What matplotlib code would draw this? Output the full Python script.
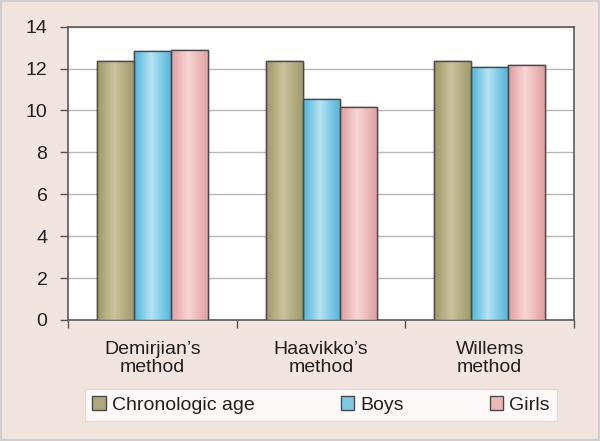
import matplotlib
matplotlib.use("Agg")
import matplotlib.pyplot as plt
import numpy as np
from matplotlib.colors import LinearSegmentedColormap
from matplotlib.patches import Rectangle

categories = ["Demirjian\u2019s\nmethod", "Haavikko\u2019s\nmethod", "Willems\nmethod"]
series_names = ["Chronologic age", "Boys", "Girls"]
chronologic = [12.37, 12.37, 12.37]
boys = [12.85, 10.54, 12.09]
girls = [12.88, 10.19, 12.17]
y_ticks = [0, 2, 4, 6, 8, 10, 12, 14]

edge_cols = ["#A09865", "#4DB6DB", "#E29E9E"]
mid_cols = ["#C9C29F", "#B8E2F2", "#F6D6D6"]
flat_cols = ["#B0A878", "#7FCBE6", "#EDB8B8"]

plt.rcParams['font.family'] = ['Liberation Sans', 'DejaVu Sans']

fig = plt.figure(figsize=(6.0, 4.41), dpi=100)
fig.patch.set_facecolor("#F2E4DE")
fig.patches.append(Rectangle((0, 0), 1, 1, transform=fig.transFigure, fill=False,
                             edgecolor="#CFCFCF", linewidth=3, zorder=10))
ax = fig.add_axes([0.1138, 0.2744, 0.8429, 0.6651])
ax.set_facecolor("white")

x = np.arange(len(categories))
w = 0.22
data = [chronologic, boys, girls]
for i, (vals, name) in enumerate(zip(data, series_names)):
    cmap = LinearSegmentedColormap.from_list(
        "g%d" % i, [(0, edge_cols[i]), (0.45, mid_cols[i]), (1, edge_cols[i])])
    bars = ax.bar(x + (i - 1) * w, vals, width=w, color=flat_cols[i],
                  edgecolor="#4A4A4A", linewidth=1.0, label=name, zorder=3)
    grad = np.linspace(0, 1, 64).reshape(1, -1)
    for b in bars:
        bx, by = b.get_x(), b.get_y()
        bw, bh = b.get_width(), b.get_height()
        im = ax.imshow(grad, cmap=cmap, aspect="auto", extent=[bx, bx + bw, by, by + bh],
                       zorder=3.5, interpolation="bilinear")
        im.set_clip_path(b)
        ed = Rectangle((bx, by), bw, bh, fill=False, edgecolor="#4A4A4A", linewidth=1.0, zorder=4)
        ax.add_patch(ed)

ax.set_xlim(-0.5, 2.5)
ax.set_ylim(0, 14)
ax.set_yticks(y_ticks)
ax.set_yticklabels([str(v) for v in y_ticks], fontsize=14, color="#231F20")
ax.yaxis.grid(True, color="#B8B8B8", linewidth=1.0, zorder=0)
ax.set_axisbelow(True)

ax.set_xticks([-0.5, 0.5, 1.5, 2.5])
ax.set_xticklabels([])
ax.set_xticks(x, minor=True)
ax.set_xticklabels(categories, minor=True, fontsize=14, color="#231F20", linespacing=1.1)
ax.tick_params(axis="x", which="minor", length=0, pad=15)
ax.tick_params(axis="x", which="major", length=6, width=1, color="#555555", direction="out")
ax.tick_params(axis="y", length=6, width=1, color="#555555", direction="out", pad=9)
for s in ax.spines.values():
    s.set_color("#5A5A5A")
    s.set_linewidth(1.2)

handles = [Rectangle((0, 0), 1, 1, facecolor=flat_cols[i], edgecolor="#4A4A4A", linewidth=1.0)
           for i in range(3)]
leg = fig.legend(handles, series_names, loc="lower left",
                 bbox_to_anchor=(85 / 600, 1 - 421 / 441, 472 / 600, 31 / 441),
                 mode="expand", ncol=3, fontsize=14, frameon=True, fancybox=False,
                 handlelength=0.7, handleheight=0.7, handletextpad=0.3,
                 borderaxespad=0, borderpad=0.38)
leg.get_frame().set_edgecolor("#D8D8D8")
leg.get_frame().set_linewidth(1.0)
for t in leg.get_texts():
    t.set_color("#231F20")

fig.savefig("out.png", dpi=100, facecolor=fig.get_facecolor())
